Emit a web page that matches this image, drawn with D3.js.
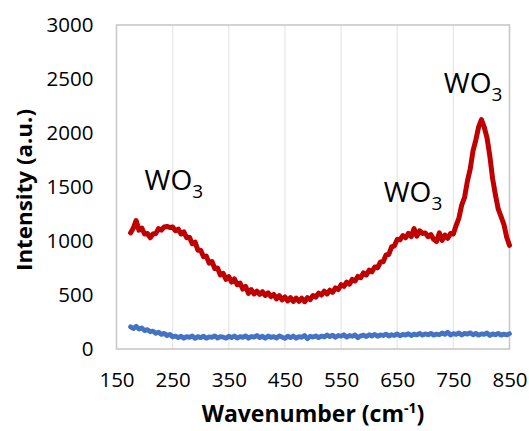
<!DOCTYPE html>
<html><head><meta charset="utf-8">
<script src="https://cdn.jsdelivr.net/npm/d3@7"></script>
<style>body{margin:0;background:#fff}svg{display:block}text{font-family:"Open Sans",sans-serif;fill:#000}</style>
</head><body>
<svg id="c" width="529" height="431"></svg>
<script>
const wavenumbers = [175,180,185,190,195,200,205,210,215,220,225,230,235,240,245,250,255,260,265,270,275,280,285,290,295,300,305,310,315,320,325,330,335,340,345,350,355,360,365,370,375,380,385,390,395,400,405,410,415,420,425,430,435,440,445,450,455,460,465,470,475,480,485,490,495,500,505,510,515,520,525,530,535,540,545,550,555,560,565,570,575,580,585,590,595,600,605,610,615,620,625,630,635,640,645,650,655,660,665,670,675,680,685,690,695,700,705,710,715,720,725,730,735,740,745,750,755,760,765,770,775,780,785,790,795,800,805,810,815,820,825,830,835,840,845,850];
const redIntensity = [1075,1120,1190,1100,1120,1065,1070,1030,1065,1070,1115,1100,1130,1135,1125,1130,1095,1110,1065,1085,1030,1035,975,990,915,915,855,860,795,810,745,750,685,700,645,670,620,650,595,610,555,580,515,550,510,535,505,530,495,520,485,505,465,495,455,482,445,475,440,472,442,470,438,475,458,495,480,518,500,535,510,545,525,565,550,595,580,618,600,645,630,672,660,705,685,730,715,760,752,805,808,870,875,945,955,1015,1010,1050,1030,1070,1040,1115,1045,1095,1070,1075,1040,1060,1015,995,1075,1005,1055,1025,1070,1065,1145,1215,1335,1405,1555,1665,1835,1935,2055,2125,2055,1955,1785,1575,1425,1295,1225,1155,1035,960];
const blueIntensity = [205,190,210,185,195,170,180,160,165,145,155,135,145,125,135,112,120,105,118,100,115,108,120,98,115,105,118,100,112,108,122,102,115,110,100,118,105,120,102,115,108,122,100,116,110,125,105,118,100,120,108,115,102,122,110,98,118,105,120,100,115,108,125,95,118,110,122,105,120,112,130,115,128,108,125,118,132,110,125,118,130,105,122,128,115,132,120,135,118,130,125,138,120,132,125,140,122,135,128,142,125,138,130,145,128,140,132,145,128,138,132,148,135,155,130,142,135,148,130,145,138,150,132,145,128,140,135,148,125,140,132,145,128,138,130,142];
const xTicks = [150,250,350,450,550,650,750,850];
const yTicks = [0,500,1000,1500,2000,2500,3000];
const annotations = [
  {wn: 200, val: 1472, label: "WO", sub: "3"},
  {wn: 626, val: 1361, label: "WO", sub: "3"},
  {wn: 733, val: 2375, label: "WO", sub: "3"}
];

const svg = d3.select("#c");
const L = 116.5, R = 509.5, T = 25, B = 349;
const x = d3.scaleLinear().domain([150, 850]).range([L, R]);
const y = d3.scaleLinear().domain([0, 3000]).range([B, T]);

// vertical gridlines
svg.append("g").selectAll("line").data(xTicks.slice(1, -1)).join("line")
  .attr("x1", d => x(d)).attr("x2", d => x(d)).attr("y1", T).attr("y2", B)
  .attr("stroke", "#e8e8e8").attr("stroke-width", 1.3);

// frame
svg.append("rect").attr("x", L).attr("y", T).attr("width", R - L).attr("height", B - T)
  .attr("fill", "none").attr("stroke", "#c8c8c8").attr("stroke-width", 1.6);

// axes via d3
const xAxis = svg.append("g").attr("transform", `translate(0,${B})`)
  .call(d3.axisBottom(x).tickValues(xTicks).tickSize(0).tickPadding(23).tickFormat(d3.format("d")));
xAxis.select(".domain").remove();
xAxis.selectAll("text").style("font-size", "20.5px").style("font-family", "Open Sans").attr("fill", "#000");

const yAxis = svg.append("g").attr("transform", `translate(${L},0)`)
  .call(d3.axisLeft(y).tickValues(yTicks).tickSize(0).tickPadding(23).tickFormat(d3.format("d")));
yAxis.select(".domain").remove();
yAxis.selectAll("text").style("font-size", "20.5px").style("font-family", "Open Sans").attr("fill", "#000");

// lines
const redData = wavenumbers.map((w, i) => [w, redIntensity[i]]);
const blueData = wavenumbers.map((w, i) => [w, blueIntensity[i]]);
const line = d3.line().x(d => x(d[0])).y(d => y(d[1]));
svg.append("path").datum(blueData).attr("d", line).attr("fill", "none")
  .attr("stroke", "#4472C4").attr("stroke-width", 4.8).attr("stroke-linejoin", "round").attr("stroke-linecap", "round");
svg.append("path").datum(redData).attr("d", line).attr("fill", "none")
  .attr("stroke", "#C00000").attr("stroke-width", 5).attr("stroke-linejoin", "round").attr("stroke-linecap", "round");

// annotations
annotations.forEach(a => {
  const t = svg.append("text").attr("x", x(a.wn)).attr("y", y(a.val))
    .style("font-size", "28px").style("font-family", "Open Sans");
  t.append("tspan").text(a.label);
  t.append("tspan").attr("dy", 8).style("font-size", "19px").text(a.sub);
});

// axis titles
svg.append("text").attr("x", (L + R) / 2).attr("y", 422).attr("text-anchor", "middle")
  .style("font-size", "23px").style("font-weight", "bold")
  .call(t => {
    t.append("tspan").text("Wavenumber (cm");
    t.append("tspan").attr("dy", -9).style("font-size", "14px").text("-1");
    t.append("tspan").attr("dy", 9).text(")");
  });
svg.append("text").attr("transform", `translate(32,${(T + B) / 2 + 3}) rotate(-90)`).attr("text-anchor", "middle")
  .style("font-size", "21px").style("font-weight", "bold")
  .attr("textLength", 162).attr("lengthAdjust", "spacingAndGlyphs").text("Intensity (a.u.)");
</script>
</body></html>
